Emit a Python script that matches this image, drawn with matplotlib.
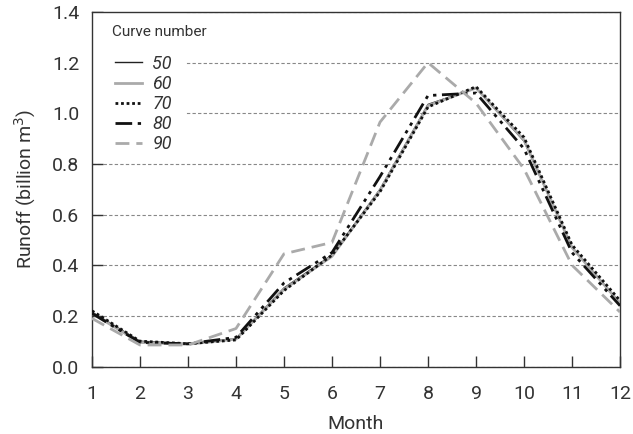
import matplotlib
matplotlib.use("Agg")
import matplotlib.pyplot as plt
from matplotlib.patches import Rectangle

months = list(range(1, 13))
month_labels = [str(m) for m in months]
yticks = [0.0, 0.2, 0.4, 0.6, 0.8, 1.0, 1.2, 1.4]

curve_names = ["50", "60", "70", "80", "90"]
c50 = [0.215, 0.100, 0.090, 0.110, 0.310, 0.440, 0.700, 1.035, 1.100, 0.890, 0.470, 0.250]
c60 = [0.210, 0.095, 0.088, 0.108, 0.305, 0.435, 0.695, 1.030, 1.100, 0.895, 0.470, 0.250]
c70 = [0.220, 0.100, 0.090, 0.105, 0.300, 0.440, 0.690, 1.025, 1.105, 0.905, 0.480, 0.260]
c80 = [0.210, 0.095, 0.090, 0.115, 0.330, 0.450, 0.750, 1.070, 1.080, 0.860, 0.450, 0.240]
c90 = [0.190, 0.085, 0.085, 0.150, 0.445, 0.490, 0.965, 1.200, 1.040, 0.780, 0.400, 0.215]

plt.rcParams["font.family"] = ["Roboto", "DejaVu Sans"]

fig = plt.figure(figsize=(6.33, 4.34), dpi=100)
ax = fig.add_axes([0.1453, 0.1555, 0.8342, 0.8169])

gray = "#aaaaaa"
txt = "#333333"
styles = [
    dict(color="#222222", lw=1.0, ls="-"),
    dict(color=gray, lw=2.0, ls="-"),
    dict(color="#111111", lw=2.0, ls=(0, (1, 1))),
    dict(color="#111111", lw=2.0, ls=(0, (6, 2, 1.2, 2, 1.2, 2))),
    dict(color=gray, lw=2.0, ls=(0, (5, 2.5))),
]
series = [c50, c60, c70, c80, c90]
for name, vals, st in zip(curve_names, series, styles):
    ax.plot(months, vals, label=name, zorder=3, **st)

ax.set_xlim(1, 12)
ax.set_ylim(0, 1.4)
ax.set_xticks(months)
ax.set_xticklabels(month_labels)
ax.set_yticks(yticks)
ax.set_yticklabels([f"{v:.1f}" for v in yticks])
ax.tick_params(direction="in", length=8, width=1, labelsize=14, colors=txt)
ax.tick_params(axis="x", pad=13)
ax.tick_params(axis="y", pad=9)
for s in ax.spines.values():
    s.set_color(txt)
    s.set_linewidth(1.0)
ax.yaxis.grid(True, ls=(0, (3, 2)), color="#888888", lw=0.8, zorder=0)
ax.set_axisbelow(True)

# white area behind the legend that hides the grid lines
ax.add_patch(Rectangle((0.0, 0.64), 0.176, 0.36, transform=ax.transAxes,
                       facecolor="white", edgecolor="none", zorder=1.5))

ax.set_xlabel("Month", fontsize=14, color=txt, labelpad=9)
ax.set_ylabel("Runoff (billion m$^3$)", fontsize=14, color=txt, labelpad=10)

leg = ax.legend(loc="upper left", frameon=False,
                fontsize=13, handlelength=1.5,
                labelspacing=0.12, borderpad=0.4, handletextpad=0.6,
                borderaxespad=0.0,
                bbox_to_anchor=(0.029, 0.90))
for t in leg.get_texts():
    t.set_fontstyle("italic")
    t.set_color(txt)
leg.set_zorder(5)

ax.text(0.038, 0.944, "Curve number", transform=ax.transAxes, fontsize=11,
        color=txt, ha="left", va="center", zorder=6)

fig.savefig("out.png", dpi=100)
